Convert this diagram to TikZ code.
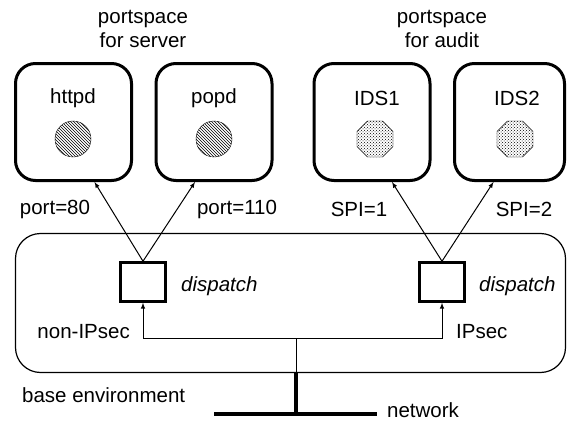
\documentclass[tikz,border=0pt]{standalone}
\usepackage{fontspec}
\setmainfont{Liberation Sans}
\usepackage{tikz}
\usetikzlibrary{calc, patterns, shapes.geometric}
\tikzstyle{space}=[rectangle, draw, line width=3pt, rounded corners=20pt, minimum width=116pt, minimum height=117pt]
\tikzstyle{sock}=[circle, draw, minimum size=36pt, inner sep=0pt, pattern=north west lines]
\tikzstyle{saport}=[regular polygon, regular polygon sides=8, draw, minimum size=39pt, inner sep=0pt, pattern=crosshatch dots]
\tikzstyle{disp}=[rectangle, draw, line width=2.5pt, minimum width=45pt, minimum height=39pt]
\tikzstyle{lbl}=[inner sep=1pt]

\begin{document}
\begin{tikzpicture}[x=1pt, y=-1pt, >=latex, font=\fontsize{20.5}{24}\selectfont]
\useasboundingbox (0,0) rectangle (568,423);

% Base environment
\node[draw, line width=1.2pt, rounded corners=25pt, minimum width=550pt, minimum height=139pt] (base) at (290.5,303) {};
\node[lbl, anchor=west] (baselbl) at (21,395) {base environment};

% Portspaces
\node[space] (httpd) at (73.5,122) {};
\node[space] (popd) at (214,122) {};
\node[space] (ids1) at (372,122) {};
\node[space, minimum width=110pt] (ids2) at (509.5,122) {};

\node[lbl] (httpdlbl) at (73,98) {httpd};
\node[lbl] (popdlbl) at (214,98) {popd};
\node[lbl] (ids1lbl) at (377,98) {IDS1};
\node[lbl] (ids2lbl) at (517,98) {IDS2};

\node[sock] (httpdsock) at (73,139) {};
\node[sock] (popdsock) at (214,139) {};
\node[saport] (ids1sock) at (375,139) {};
\node[saport] (ids2sock) at (515,139) {};

\node[lbl, align=center] (srvlbl) at (143,29) {portspace\\for server};
\node[lbl, align=center] (audlbl) at (442,29) {portspace\\for audit};

% Dispatchers
\node[disp] (displ) at (143,282) {};
\node[disp] (dispr) at (442,282) {};
\node[lbl, anchor=west, font=\fontsize{20.5}{24}\selectfont\itshape] (displlbl) at (180,286) {dispatch};
\node[lbl, anchor=west, font=\fontsize{20.5}{24}\selectfont\itshape] (disprlbl) at (478,286) {dispatch};

\draw[->, line width=1pt] (displ.north) -- ($(httpd.south)+(21,0)$);
\draw[->, line width=1pt] (displ.north) -- ($(popd.south)+(-19,0)$);
\draw[->, line width=1pt] (dispr.north) -- ($(ids1.south)+(20,0)$);
\draw[->, line width=1pt] (dispr.north) -- ($(ids2.south)+(-16,0)$);

\node[lbl] (p80) at (55,209) {port=80};
\node[lbl] (p110) at (237,209) {port=110};
\node[lbl] (spi1) at (359,209) {SPI=1};
\node[lbl] (spi2) at (524,209) {SPI=2};

% Network
\coordinate (junc) at (296,338);
\coordinate (netl) at (214,414);
\coordinate (netr) at (377,414);
\draw[->, line width=1pt] (junc) -| (displ.south);
\draw[->, line width=1pt] (junc) -| (dispr.south);
\draw[line width=1pt] (junc) -- (junc |- base.south);
\draw[line width=4pt] (junc |- base.south) -- (junc |- netl);
\draw[line width=4pt] (netl) -- (netr);

\node[lbl, anchor=east] (nonipsec) at (131,332) {non-IPsec};
\node[lbl, anchor=west] (ipsec) at (455,332) {IPsec};
\node[lbl, anchor=west] (netlbl) at (386,410) {network};

\end{tikzpicture}
\end{document}
